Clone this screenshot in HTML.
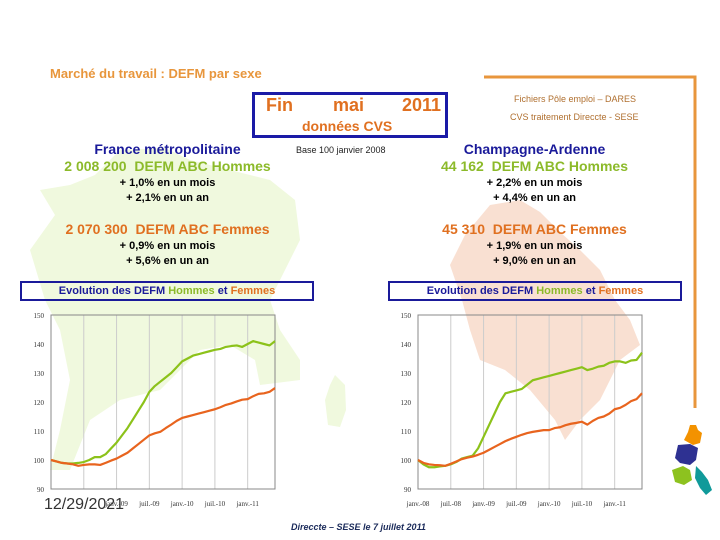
<!DOCTYPE html>
<html><head><meta charset="utf-8"><style>
body{margin:0;width:720px;height:540px;position:relative;background:#fff;font-family:"Liberation Sans",sans-serif;overflow:hidden}
.a{position:absolute;white-space:nowrap}
.c{text-align:center;font-weight:bold}
</style></head><body>
<svg class="a" style="left:0;top:0" width="720" height="540">
<polygon fill="#f0f9de" points="120,150 165,148 190,160 230,170 270,180 295,200 300,240 285,270 270,300 280,330 300,360 300,380 260,385 255,360 230,345 200,350 160,390 120,400 90,420 70,470 50,470 60,430 70,380 60,330 45,300 30,250 55,215 40,190 70,185 95,175"/>
<polygon fill="#f0f9de" points="335,375 345,385 346,410 340,427 328,425 325,400 330,385"/>
<polygon fill="#f9e0d2" points="490,205 520,200 540,212 560,232 580,250 600,270 615,300 630,320 640,345 620,360 610,380 600,400 580,420 565,440 555,420 530,390 505,370 480,360 470,330 462,300 450,265 465,235"/>
<polyline fill="none" stroke="#e8963c" stroke-width="3" points="484,77 695,77 695,408"/>
<polygon fill="#f39200" points="690,425 696,425 698,430 702,433 700,443 693,445 684,440 688,432"/>
<polygon fill="#2e3192" points="678,445 690,444 698,448 696,460 690,465 680,463 675,458"/>
<polygon fill="#8dc21f" points="672,470 683,466 690,470 692,480 684,485 675,482"/>
<polygon fill="#109a9a" points="696,466 702,472 708,480 712,490 706,495 700,488 695,478"/>
</svg>
<div class="a" style="left:50px;top:66px;font-size:13px;font-weight:bold;color:#e8963c">Marché du travail : DEFM par sexe</div>
<div class="a" style="left:252px;top:92px;width:190px;height:40px;border:3px solid #1a1aa6"></div>
<div class="a" style="left:266px;top:95px;font-size:18px;font-weight:bold;color:#e07020">Fin</div>
<div class="a" style="left:333px;top:95px;font-size:18px;font-weight:bold;color:#e07020">mai</div>
<div class="a" style="left:402px;top:95px;font-size:18px;font-weight:bold;color:#e07020">2011</div>
<div class="a" style="left:302px;top:118px;font-size:14px;font-weight:bold;color:#e07020">données CVS</div>
<div class="a" style="left:296px;top:145px;font-size:9px;color:#222">Base 100 janvier 2008</div>
<div class="a" style="left:514px;top:94px;font-size:9px;color:#b07030">Fichiers Pôle emploi – DARES</div>
<div class="a" style="left:510px;top:112px;font-size:9px;color:#b07030">CVS traitement Direccte - SESE</div>

<div class="a c" style="left:40px;top:141px;width:255px">
<div style="font-size:14px;color:#1a1a9a;line-height:16px">France métropolitaine</div>
<div style="font-size:14px;color:#8cba2a;line-height:19px">2 008 200&nbsp; DEFM ABC Hommes</div>
<div style="font-size:11px;color:#000;line-height:15px">+ 1,0% en un mois</div>
<div style="font-size:11px;color:#000;line-height:15px">+ 2,1% en un an</div>
<div style="font-size:14px;color:#e07020;line-height:19px;margin-top:14px">2 070 300&nbsp; DEFM ABC Femmes</div>
<div style="font-size:11px;color:#000;line-height:15px">+ 0,9% en un mois</div>
<div style="font-size:11px;color:#000;line-height:15px">+ 5,6% en un an</div>
</div>
<div class="a c" style="left:407px;top:141px;width:255px">
<div style="font-size:14px;color:#1a1a9a;line-height:16px">Champagne-Ardenne</div>
<div style="font-size:14px;color:#8cba2a;line-height:19px">44 162&nbsp; DEFM ABC Hommes</div>
<div style="font-size:11px;color:#000;line-height:15px">+ 2,2% en un mois</div>
<div style="font-size:11px;color:#000;line-height:15px">+ 4,4% en un an</div>
<div style="font-size:14px;color:#e07020;line-height:19px;margin-top:14px">45 310&nbsp; DEFM ABC Femmes</div>
<div style="font-size:11px;color:#000;line-height:15px">+ 1,9% en un mois</div>
<div style="font-size:11px;color:#000;line-height:15px">+ 9,0% en un an</div>
</div>
<div class="a c" style="left:20px;top:281px;width:290px;height:16px;border:2px solid #1a1a9a;font-size:11px;line-height:16px;color:#1a1a9a">Evolution des DEFM <span style="color:#8cba2a">Hommes</span> et <span style="color:#e07020">Femmes</span></div>
<div class="a c" style="left:388px;top:281px;width:290px;height:16px;border:2px solid #1a1a9a;font-size:11px;line-height:16px;color:#1a1a9a">Evolution des DEFM <span style="color:#8cba2a">Hommes</span> et <span style="color:#e07020">Femmes</span></div>

<svg class="a" id="charts" style="left:0;top:0" width="720" height="540"></svg>
<div class="a" style="left:44px;top:496px;font-size:16px;color:#333">12/29/2021</div>
<div class="a" style="left:291px;top:522px;font-size:9px;font-weight:bold;font-style:italic;color:#1a2a5a">Direccte – SESE le 7 juillet 2011</div>
<script>
const yTicks=[90,100,110,120,130,140,150];
const xTickLabels=["janv.-08","juil.-08","janv.-09","juil.-09","janv.-10","juil.-10","janv.-11"];
const franceHommes=[100,99.5,99,98.8,98.8,99,99.3,100,101,101,102,104,106,108.5,111,114,117,120,123.5,125.5,127,128.5,130,132,134,135,136,136.5,137,137.5,138,138.3,139,139.3,139.5,139,140,141,140.5,140,139.5,141];
const franceFemmes=[100,99.5,99,98.8,98.5,98,98.3,98.5,98.5,98.3,99,99.8,100.5,101.5,102.5,104,105.5,107,108.5,109.2,109.7,111,112.2,113.5,114.5,115,115.5,116,116.5,117,117.5,118.2,119,119.5,120.2,120.8,121,122,122.8,123,123.5,124.8];
const champHommes=[100,98.5,97.5,97.5,97.8,98,98.5,99.3,100.5,101,101.5,104,108,112,116,120,123,123.5,124,124.5,126,127.5,128,128.5,129,129.5,130,130.5,131,131.5,132,131,131.5,132.2,132.5,133.5,134,134,133.5,134.3,134.5,137];
const champFemmes=[100,99,98.5,98.3,98.2,98,98.7,99.5,100.3,100.8,101.2,101.8,102.5,103.5,104.5,105.5,106.5,107.3,108,108.7,109.3,109.7,110,110.3,110.3,111,111.3,112,112.5,112.8,113.2,112.2,113.5,114.5,115,116,117.5,118,119,120.3,121,123];
const svg=document.getElementById('charts');const NS='http://www.w3.org/2000/svg';
function mk(t,a){const e=document.createElementNS(NS,t);for(const k in a)e.setAttribute(k,a[k]);svg.appendChild(e);return e;}
function chart(x0,x1,name,hom,fem,showLabels){
 const y0=489,y1=315;
 const ys=v=>y0-(v-90)/60*(y0-y1);
 const step=(x1-x0)/41;
 const xs=i=>x0+i*step;
 for(let k=1;k<=6;k++){const gx=xs(k*6);const l=mk('line',{x1:gx,x2:gx,y1:y1,y2:y0,stroke:'#ccc','stroke-width':1});
 
 }
 const fr=mk('rect',{x:x0,y:y1,width:x1-x0,height:y0-y1,fill:'none',stroke:'#888','stroke-width':1});
 
 
 yTicks.forEach(v=>{const t=mk('text',{x:x0-7,y:ys(v)+3,'font-size':7,'text-anchor':'end',fill:'#333','font-family':'Liberation Serif'});t.textContent=v;
 
 });
 xTickLabels.forEach((s,k)=>{if(!showLabels&&k<2)return;const t=mk('text',{x:xs(k*6),y:506,'font-size':7,'text-anchor':'middle',fill:'#333','font-family':'Liberation Serif'});t.textContent=s;
 
 });
 [[hom,'#8cc21a','hommes'],[fem,'#e8641e','femmes']].forEach(([d,c,n])=>{
 const p=mk('polyline',{points:d.map((v,i)=>xs(i)+','+ys(v)).join(' '),fill:'none',stroke:c,'stroke-width':2.2,'stroke-linejoin':'round'});
 
 });
}
chart(51,275,'france-chart',franceHommes,franceFemmes,false);
chart(418,642,'champagne-chart',champHommes,champFemmes,true);
</script>
</body></html>
